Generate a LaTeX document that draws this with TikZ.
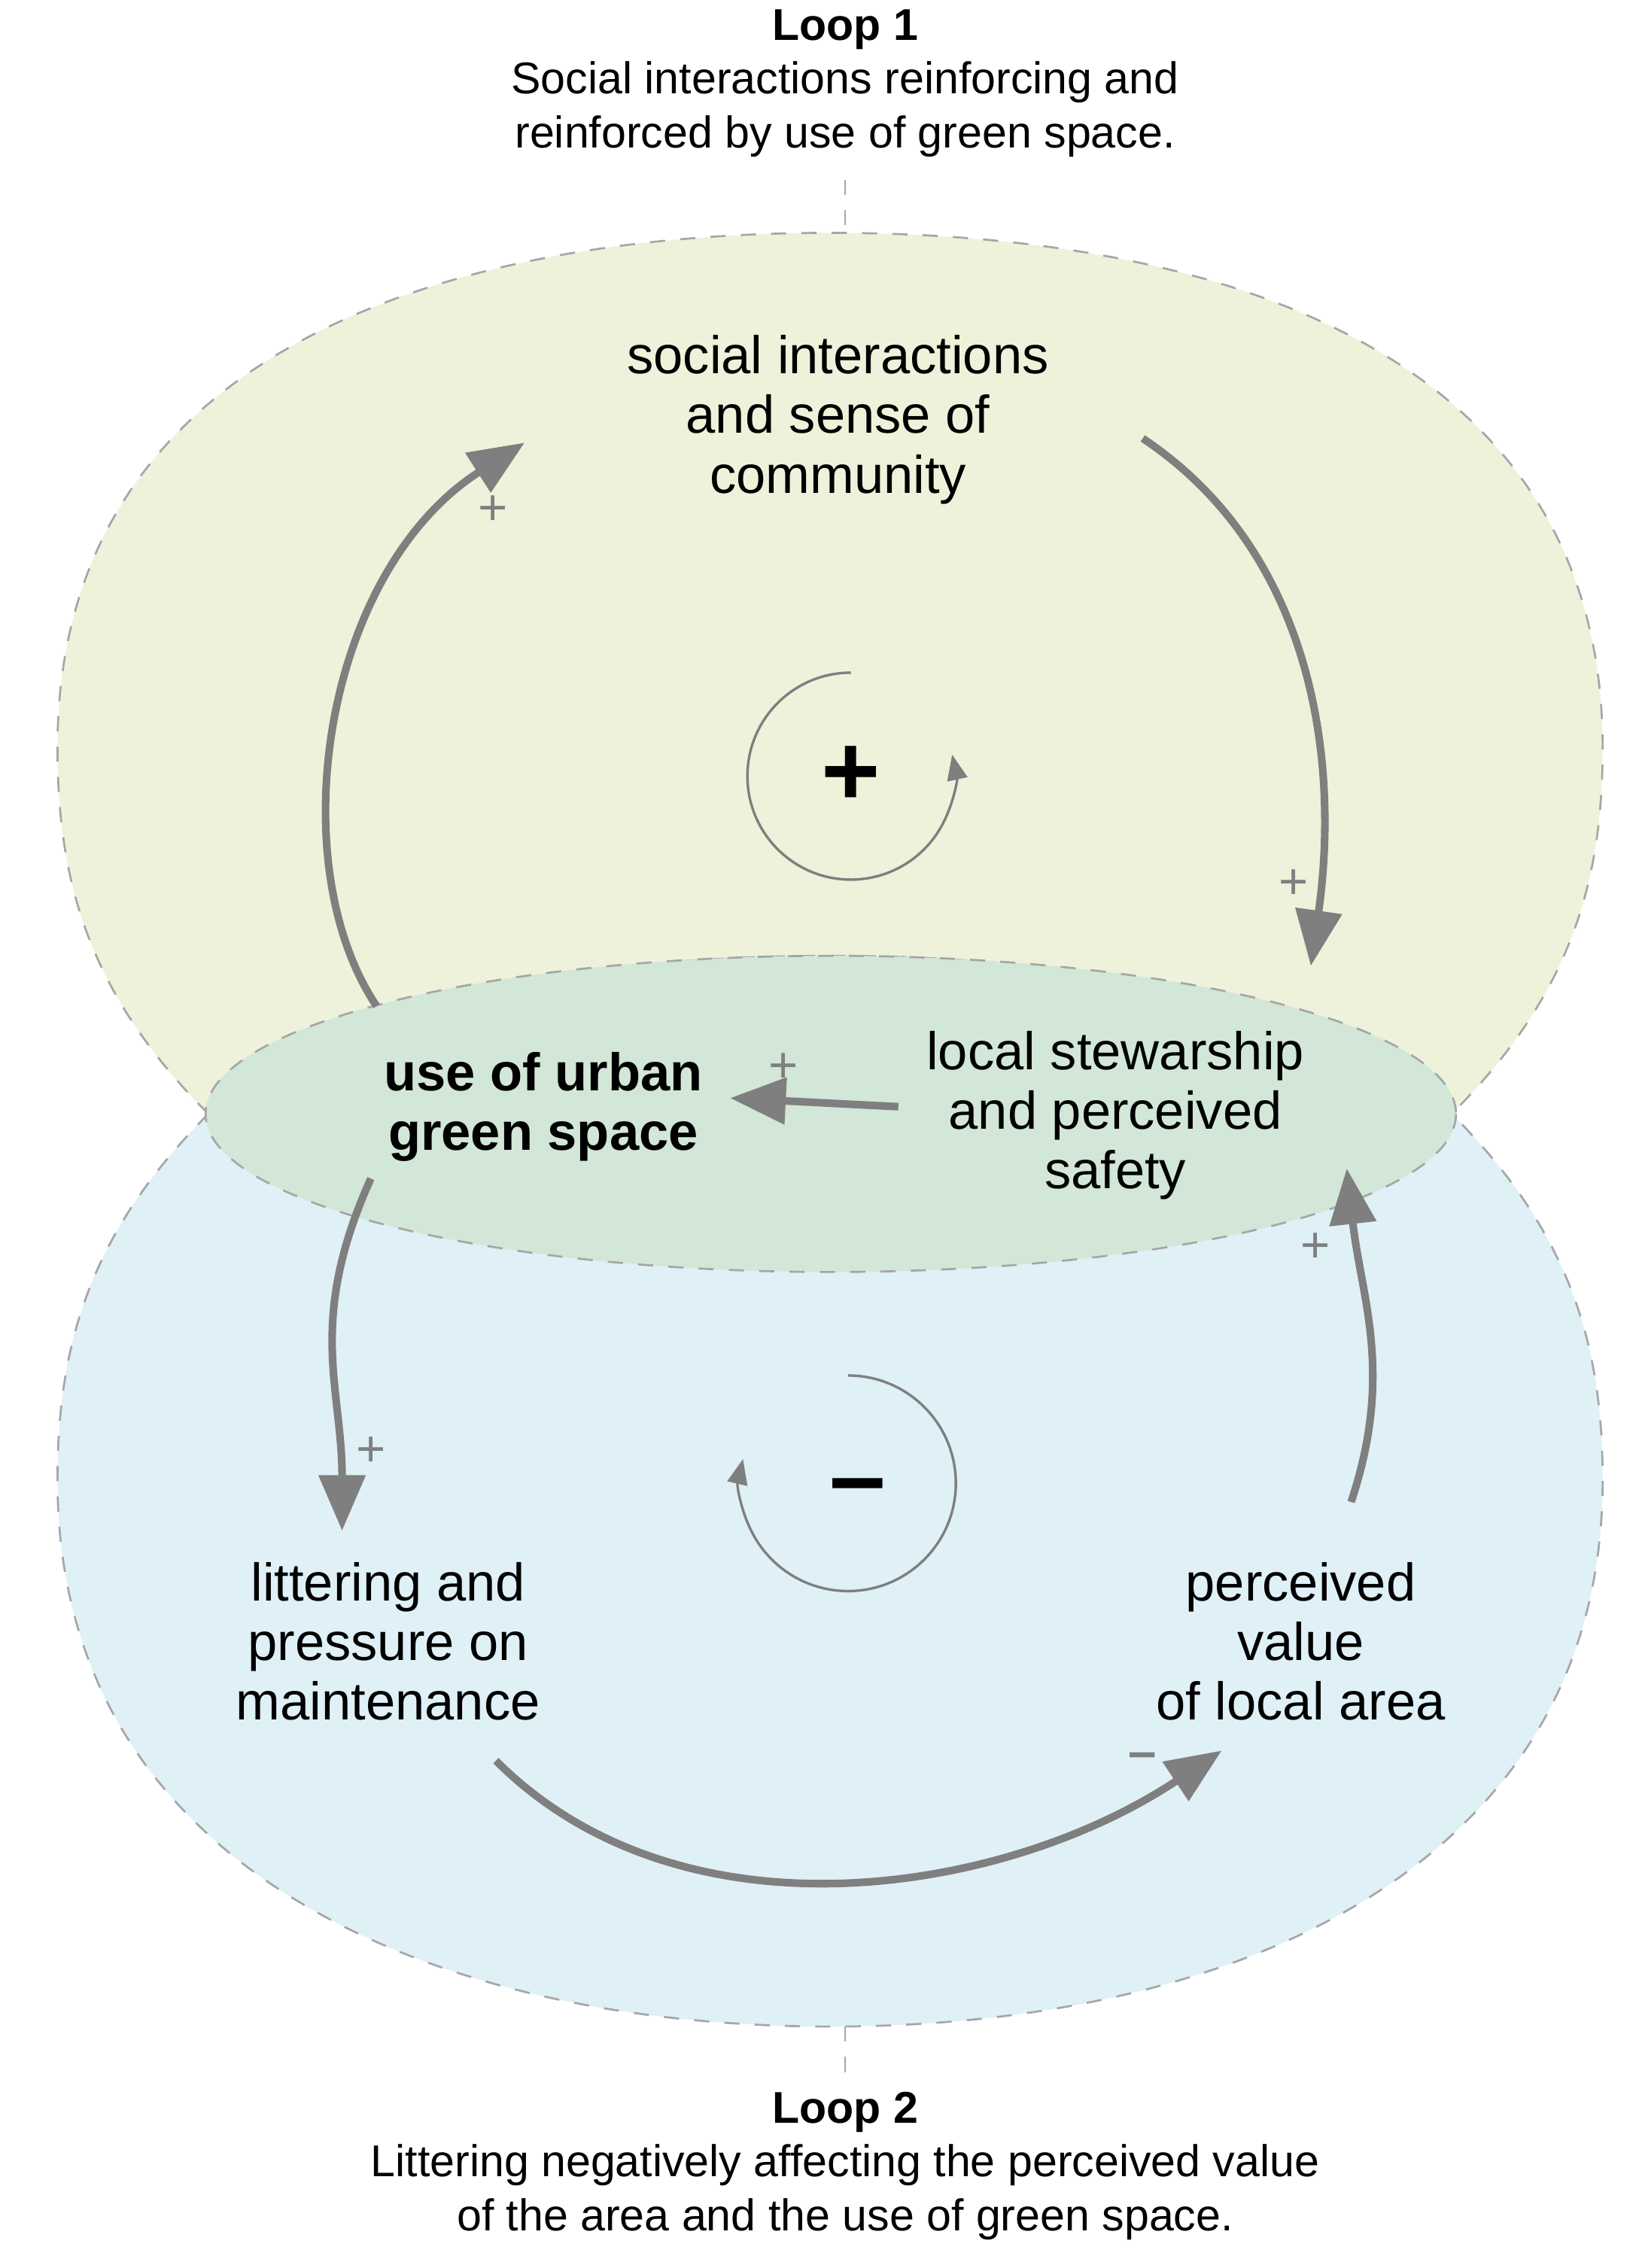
\documentclass[tikz,border=0pt]{standalone}
\usepackage{fontspec}
\setmainfont{Liberation Sans}
\usetikzlibrary{arrows.meta}
\definecolor{loopgray}{HTML}{7F7F7F}
\definecolor{topfill}{HTML}{EEF2DA}
\definecolor{botfill}{HTML}{DFF0F7}
\definecolor{midfill}{HTML}{D2E7D7}
\tikzset{
  var/.style={align=center, inner sep=0pt, font=\fontsize{10.5}{11.8}\selectfont},
  title/.style={align=center, inner sep=0pt, font=\fontsize{8.8}{10.6}\selectfont},
  link/.style={draw=loopgray, line width=1.5pt, -{Triangle[length=11pt, width=9pt]}},
  sign/.style={text=loopgray, inner sep=0pt, font=\fontsize{10}{10}\selectfont},
  blob/.style={draw=gray!70, dashed, line width=0.4pt},
  turn/.style={draw=loopgray, line width=0.5pt, -{Triangle[length=5pt, width=4pt]}}
}
\begin{document}
\begin{tikzpicture}[x=0.01cm, y=-0.01cm]
\useasboundingbox (0,0) rectangle (1140,1578);

% zones
\draw[blob, fill=topfill] (145,775) .. controls (60,690) and (40,610) .. (40,520)
  .. controls (40,250) and (300,162) .. (578,162)
  .. controls (856,162) and (1115,250) .. (1115,520)
  .. controls (1115,610) and (1095,690) .. (1010,775)
  .. controls (900,860) and (740,885) .. (578,885)
  .. controls (416,885) and (256,860) .. (145,775) -- cycle;
\draw[blob, fill=botfill] (145,775) .. controls (60,860) and (40,940) .. (40,1030)
  .. controls (40,1300) and (300,1410) .. (578,1410)
  .. controls (856,1410) and (1115,1300) .. (1115,1030)
  .. controls (1115,940) and (1095,860) .. (1010,775)
  .. controls (900,690) and (740,665) .. (578,665)
  .. controls (416,665) and (256,690) .. (145,775) -- cycle;
\draw[blob, fill=midfill] (578,775) ellipse [x radius=435, y radius=110];
\draw[blob] (588,125) -- (588,162);
\draw[blob] (588,1410) -- (588,1450);

% titles
\node[title] (t1) at (588,58) {\textbf{Loop 1}\\Social interactions reinforcing and\\reinforced by use of green space.};
\node[title] (t2) at (588,1507) {\textbf{Loop 2}\\Littering negatively affecting the perceived value\\of the area and the use of green space.};

% variables
\node[var] (social) at (583,292) {social interactions\\and sense of\\community};
\node[var, font=\bfseries\fontsize{10.5}{11.8}\selectfont] (use) at (378,770) {use of urban\\green space};
\node[var] (local) at (776,776) {local stewarship\\and perceived\\safety};
\node[var] (litter) at (270,1142) {littering and\\pressure on\\maintenance};
\node[var] (value) at (905,1142) {perceived\\value\\of local area};

% links
\draw[link] ([shift={(-116,-70)}]use.center) .. controls +(-67,-100) and +(-140,90) .. ([shift={(-218,16)}]social.center);
\draw[link] ([shift={(212,13)}]social.center) .. controls +(120,80) and +(20,-140) .. ([shift={(136,-104)}]local.center);
\draw[link] ([shift={(-151,-6)}]local.center) -- ([shift={(130,-6)}]use.center);
\draw[link] ([shift={(-120,50)}]use.center) .. controls +(-45,100) and +(0,-100) .. ([shift={(-32,-77)}]litter.center);
\draw[link] ([shift={(75,83)}]litter.center) .. controls +(130,130) and +(-150,100) .. ([shift={(-55,76)}]value.center);
\draw[link] ([shift={(35,-97)}]value.center) .. controls +(30,-90) and +(10,90) .. ([shift={(161,37)}]local.center);

% polarities
\node[sign] (s1) at (343,355) {+};
\node[sign] (s2) at (900,615) {+};
\node[sign] (s3) at (545,743) {+};
\node[sign] (s4) at (258,1010) {+};
\node[sign] (s5) at (915,868) {+};
\node[sign] (s6) at (795,1225) {\textbf{--}};

% loop markers
\node[inner sep=0pt, font=\fontsize{20}{20}\selectfont\bfseries] (r) at (592,540) {+};
\draw[turn] (592,468) arc[start angle=-90, end angle=-372, radius=72];
\node[inner sep=0pt, font=\fontsize{20}{20}\selectfont\bfseries] (b) at (597,1040) {--};
\draw[turn] (590,957) arc[start angle=-90, end angle=193, radius=75];
\end{tikzpicture}
\end{document}
